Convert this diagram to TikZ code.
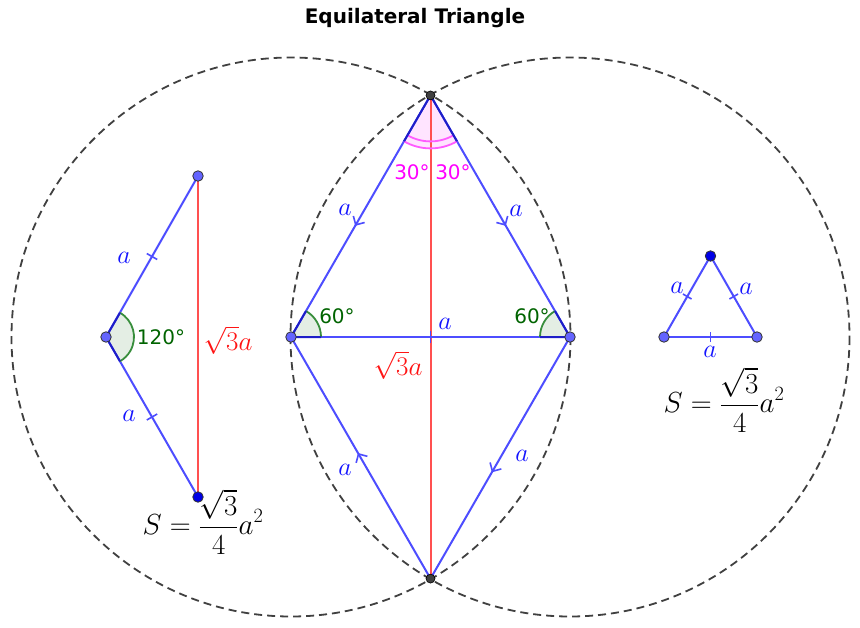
\documentclass[tikz,border=0pt]{standalone}
\usepackage{fix-cm}
\usepackage{fontspec}
\newfontfamily\gsans{DejaVu Sans}
\usetikzlibrary{arrows.meta,decorations.markings,calc}
\definecolor{bl}{RGB}{77,77,255}
\definecolor{dbl}{RGB}{30,30,200}
\definecolor{rd}{RGB}{255,80,80}
\definecolor{rdt}{RGB}{255,20,20}
\definecolor{cg}{RGB}{64,64,64}
\definecolor{ptl}{RGB}{100,100,255}
\definecolor{ptd}{RGB}{0,0,230}
\definecolor{gt}{RGB}{0,100,0}
\definecolor{ga}{RGB}{56,142,60}
\definecolor{gf}{RGB}{228,238,228}
\definecolor{mg}{RGB}{255,0,255}
\definecolor{ma}{RGB}{255,90,255}
\definecolor{mf}{RGB}{255,228,255}
\definecolor{lbl}{RGB}{20,20,255}
\tikzset{
  circ/.style={cg,line width=1.8pt,dash pattern=on 8pt off 5pt},
  seg/.style={bl,line width=2pt},
  redseg/.style={rd,line width=2pt},
  midarrow/.style={postaction={decorate,decoration={markings,
     mark=at position #1 with {\arrow{Straight Barb[length=6.5pt,width=13pt,line width=1.6pt]}}}}},
  tickmid/.style={postaction={decorate,decoration={markings,
     mark=at position 0.5 with {\draw[line width=1.6pt] (0,-#1) -- (0,#1);}}}},
  ptlight/.style={circle,fill=ptl,draw=black!80,line width=0.8pt,inner sep=0pt,minimum size=10.5pt},
  ptdark/.style={circle,fill=ptd,draw=black!80,line width=0.8pt,inner sep=0pt,minimum size=10.5pt},
  ptgray/.style={circle,fill=cg,draw=black,line width=0.6pt,inner sep=0pt,minimum size=9pt},
  lab/.style={text=lbl,font=\fontsize{26}{30}\selectfont,inner sep=0pt},
  redlab/.style={text=rdt,font=\fontsize{27}{30}\selectfont,inner sep=0pt},
  angtxt/.style={text=gt,font=\gsans\fontsize{20}{24}\selectfont,inner sep=0pt},
  magtxt/.style={text=mg,font=\gsans\fontsize{20}{24}\selectfont,inner sep=0pt},
  formula/.style={font=\fontsize{29}{34}\selectfont,inner sep=0pt}
}
\begin{document}
\begin{tikzpicture}[x=1pt,y=-1pt]
\useasboundingbox[fill=white] (0,0) rectangle (860,627);
% coordinates
\coordinate (A) at (291,337);
\coordinate (B) at (570,337);
\coordinate (T) at (430.5,95.4);
\coordinate (D) at (430.5,578.6);
\coordinate (V) at (106,337);
\coordinate (U) at (198,176);
\coordinate (L) at (198,497);
\coordinate (P1) at (664,337);
\coordinate (P2) at (757,337);
\coordinate (P3) at (710.5,256);
% title
\node[font=\gsans\bfseries\fontsize{20}{24}\selectfont] (title) at (415,18) {Equilateral Triangle};
% circles
\draw[circ] (A) circle[radius=279.5];
\draw[circ] (B) circle[radius=279.5];
% angle sectors (fills)
\fill[gf] (A) -- ++(-60:30) arc[start angle=-60,end angle=0,radius=30] -- cycle;
\fill[gf] (B) -- ++(180:30) arc[start angle=180,end angle=240,radius=30] -- cycle;
\fill[mf] (T) -- ++(60:53) arc[start angle=60,end angle=120,radius=53] -- cycle;
\fill[gf] (V) -- ++(-60:28) arc[start angle=-60,end angle=60,radius=28] -- cycle;
% red segments
\draw[redseg] (T) -- (D);
\draw[redseg] (U) -- (L);
% rhombus edges
\draw[seg,midarrow=0.54] (T) -- (A);
\draw[seg,midarrow=0.54] (T) -- (B);
\draw[seg,midarrow=0.52] (D) -- (A);
\draw[seg,midarrow=0.56] (B) -- (D);
\draw[seg,tickmid=6pt] (A) -- (B);
% left figure
\draw[seg,tickmid=6pt] (V) -- (U);
\draw[seg,tickmid=6pt] (V) -- (L);
% small triangle
\draw[seg,tickmid=5pt] (P1) -- (P3);
\draw[seg,tickmid=5pt] (P3) -- (P2);
\draw[seg,tickmid=5pt] (P1) -- (P2);
% angle arcs and darker radii
\draw[ga,line width=1.8pt] ($(A)+(-60:30)$) arc[start angle=-60,end angle=0,radius=30];
\draw[dbl,line width=2pt] (A) -- ++(-60:30) (A) -- ++(0:30);
\draw[ga,line width=1.8pt] ($(B)+(180:30)$) arc[start angle=180,end angle=240,radius=30];
\draw[dbl,line width=2pt] (B) -- ++(180:30) (B) -- ++(240:30);
\draw[ga,line width=1.8pt] ($(V)+(-60:28)$) arc[start angle=-60,end angle=60,radius=28];
\draw[dbl,line width=2pt] (V) -- ++(-60:28) (V) -- ++(60:28);
\draw[ma,line width=1.8pt] ($(T)+(60:46)$) arc[start angle=60,end angle=120,radius=46];
\draw[ma,line width=1.8pt] ($(T)+(60:53)$) arc[start angle=60,end angle=120,radius=53];
\draw[dbl,line width=2pt] (T) -- ++(60:53) (T) -- ++(120:53);
% points
\node[ptlight] (pA) at (A) {};
\node[ptlight] (pB) at (B) {};
\node[ptgray] (pT) at (T) {};
\node[ptgray] (pD) at (D) {};
\node[ptlight] (pV) at (V) {};
\node[ptlight] (pU) at (U) {};
\node[ptdark] (pL) at (L) {};
\node[ptlight] (pP1) at (P1) {};
\node[ptlight] (pP2) at (P2) {};
\node[ptdark] (pP3) at (P3) {};
% labels
\node[lab] (l1) at (345,210) {$a$};
\node[lab] (l2) at (516,211) {$a$};
\node[lab] (l3) at (345,470) {$a$};
\node[lab] (l4) at (522,456) {$a$};
\node[lab] (l5) at (445,324) {$a$};
\node[lab] (l6) at (124,258) {$a$};
\node[lab] (l7) at (129,416) {$a$};
\node[lab] (l8) at (677,288) {$a$};
\node[lab] (l9) at (746,289) {$a$};
\node[lab] (l10) at (710,352) {$a$};
\node[redlab] (r1) at (228,340) {$\sqrt{3}a$};
\node[redlab] (r2) at (398,365) {$\sqrt{3}a$};
\node[angtxt] (g1) at (337,316) {60°};
\node[angtxt] (g2) at (532,316) {60°};
\node[angtxt] (g3) at (161,337) {120°};
\node[magtxt] (m1) at (412,172) {30°};
\node[magtxt] (m2) at (453,172) {30°};
\node[formula] (f1) at (203,522) {$\displaystyle S=\frac{\sqrt{3}}{4}a^2$};
\node[formula] (f2) at (724,400) {$\displaystyle S=\frac{\sqrt{3}}{4}a^2$};
\end{tikzpicture}
\end{document}
